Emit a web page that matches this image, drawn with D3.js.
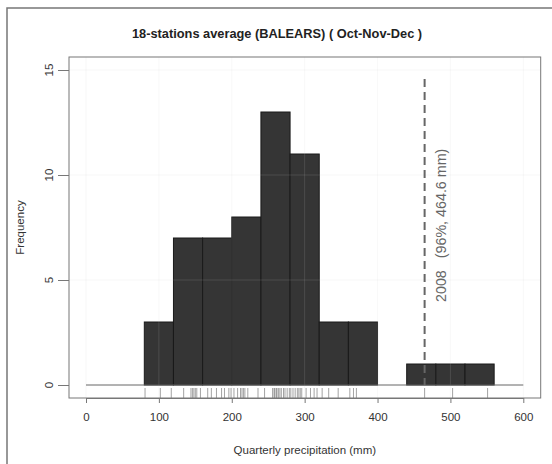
<!DOCTYPE html>
<html>
<head>
<meta charset="utf-8">
<script src="https://cdn.jsdelivr.net/npm/d3@7"></script>
<style>
  body { margin: 0; background: #fff; }
  text { font-family: "Liberation Sans", Arial, sans-serif; }
</style>
</head>
<body>
<div id="chart"></div>
<script>
// histogram bins (mm) and counts
var binStarts = [80, 120, 160, 200, 240, 280, 320, 360, 400, 440, 480, 520];
var binWidth = 40;
var counts = [3, 7, 7, 8, 13, 11, 3, 3, 0, 1, 1, 1];
// individual yearly values shown in the rug
var rugValues = [81, 102, 117,
  134, 144, 146, 148, 150, 152, 157,
  167, 172, 179, 186, 190, 196, 199,
  203, 208, 212, 214, 216, 218, 222, 236,
  245, 256, 258, 259, 261, 262, 264, 266, 268, 271, 273, 276, 279,
  281, 284, 287, 290, 292, 294, 296, 302, 308, 313, 317,
  324, 333, 346,
  362, 367, 371,
  464.6, 503, 551];
var xTicks = [0, 100, 200, 300, 400, 500, 600];
var yTicks = [0, 5, 10, 15];
var markYear = "2008", markPct = "96%", markValue = 464.6;

var W = 552, H = 464;
var box = {left: 69, top: 57, right: 540.7, bottom: 398};

var svg = d3.select("#chart").append("svg")
    .attr("width", W)
    .attr("height", H);

var x = d3.scaleLinear().domain([0, 600]).range([86, 523.3]);
var y = d3.scaleLinear().domain([0, 15]).range([385, 70]);

// outer frame (cropped on the right/bottom)
svg.append("rect")
    .attr("x", 7).attr("y", 8)
    .attr("width", W + 20).attr("height", H + 20)
    .attr("fill", "none")
    .attr("stroke", "#777")
    .attr("stroke-width", 1.5);

// title
svg.append("text")
    .attr("x", 277).attr("y", 38)
    .attr("text-anchor", "middle")
    .attr("font-size", "12.8px")
    .attr("font-weight", "bold")
    .attr("fill", "#222")
    .text("18-stations average (BALEARS) ( Oct-Nov-Dec )");

// bars
svg.selectAll(".bar")
    .data(counts.map(function(c, i) { return {x0: binStarts[i], n: c}; }).filter(function(d) { return d.n > 0; }))
  .enter().append("rect")
    .attr("class", "bar")
    .attr("x", function(d) { return x(d.x0); })
    .attr("y", function(d) { return y(d.n); })
    .attr("width", function(d) { return x(d.x0 + binWidth) - x(d.x0); })
    .attr("height", function(d) { return y(0) - y(d.n); })
    .attr("fill", "#353535")
    .attr("stroke", "#1a1a1a")
    .attr("stroke-width", 1);

// light grid on top
var grid = svg.append("g").attr("stroke", "#d3d3d3").attr("stroke-opacity", 0.15).attr("stroke-width", 1);
grid.selectAll(".vg").data(xTicks).enter().append("line")
    .attr("x1", function(d) { return x(d); }).attr("x2", function(d) { return x(d); })
    .attr("y1", box.top).attr("y2", box.bottom);
grid.selectAll(".hg").data(yTicks.slice(1)).enter().append("line")
    .attr("y1", function(d) { return y(d); }).attr("y2", function(d) { return y(d); })
    .attr("x1", box.left).attr("x2", box.right);

// baseline
svg.append("line")
    .attr("x1", x(0)).attr("x2", x(600))
    .attr("y1", y(0)).attr("y2", y(0))
    .attr("stroke", "#666").attr("stroke-width", 1);

// rug
svg.append("g").selectAll("line")
    .data(rugValues)
  .enter().append("line")
    .attr("x1", function(d) { return x(d); }).attr("x2", function(d) { return x(d); })
    .attr("y1", box.bottom).attr("y2", box.bottom - 10)
    .attr("stroke", "#444")
    .attr("stroke-opacity", 0.55)
    .attr("stroke-width", 0.9);

// plot box
svg.append("rect")
    .attr("x", box.left).attr("y", box.top)
    .attr("width", box.right - box.left).attr("height", box.bottom - box.top)
    .attr("fill", "none").attr("stroke", "#777").attr("stroke-width", 1);

// x axis
var xAxis = svg.append("g")
    .attr("transform", "translate(0," + box.bottom + ")")
    .call(d3.axisBottom(x).tickValues(xTicks).tickSize(5).tickPadding(10).tickSizeOuter(0));
xAxis.select(".domain").attr("stroke", "#777");
xAxis.selectAll(".tick line").attr("stroke", "#777");
xAxis.selectAll(".tick text").attr("font-size", "11.5px").attr("fill", "#333")
    .style("font-family", "'Liberation Sans', Arial, sans-serif");

// y axis, labels rotated like R
var yAxis = svg.append("g")
    .attr("transform", "translate(" + box.left + ",0)")
    .call(d3.axisLeft(y).tickValues(yTicks).tickSize(11).tickFormat(""));
yAxis.select(".domain").remove();
yAxis.selectAll(".tick line").attr("stroke", "#777");
svg.selectAll(".ylab").data(yTicks).enter().append("text")
    .attr("transform", function(d) { return "translate(53," + y(d) + ") rotate(-90)"; })
    .attr("text-anchor", "middle")
    .attr("font-size", "11.5px")
    .attr("fill", "#333")
    .text(function(d) { return d; });

// axis titles
svg.append("text")
    .attr("x", (box.left + box.right) / 2).attr("y", 454)
    .attr("text-anchor", "middle")
    .attr("font-size", "11.5px")
    .attr("fill", "#333")
    .text("Quarterly precipitation (mm)");
svg.append("text")
    .attr("transform", "translate(24," + (box.top + box.bottom) / 2 + ") rotate(-90)")
    .attr("text-anchor", "middle")
    .attr("font-size", "11.5px")
    .attr("fill", "#333")
    .text("Frequency");

// marked year
svg.append("line")
    .attr("x1", x(markValue)).attr("x2", x(markValue))
    .attr("y1", 79).attr("y2", y(0))
    .attr("stroke", "#666")
    .attr("stroke-width", 2)
    .attr("stroke-dasharray", "8,5");
svg.append("text")
    .attr("transform", "translate(445.5,302) rotate(-90)")
    .attr("font-size", "14.3px")
    .attr("fill", "#666")
    .attr("xml:space", "preserve")
    .text(markYear + "   (" + markPct + ", " + markValue + " mm)");
</script>
</body>
</html>
